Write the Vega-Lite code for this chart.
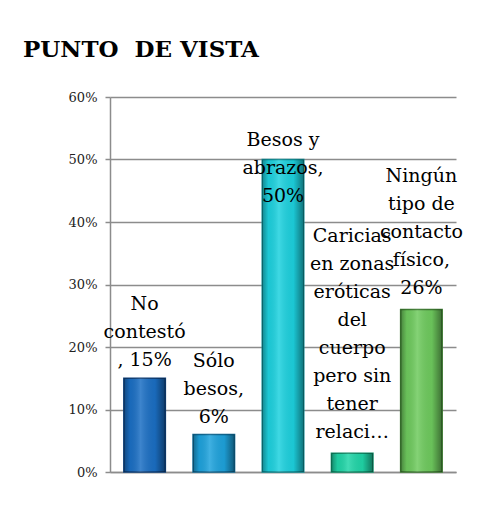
{
  "$schema": "https://vega.github.io/schema/vega-lite/v6.json",
  "width": 346,
  "height": 375,
  "autosize": {"type": "none"},
  "padding": {"left": 110, "top": 97, "right": 40, "bottom": 40},
  "background": "white",
  "title": {
    "text": "PUNTO\u00a0 DE VISTA",
    "anchor": "start",
    "frame": "group",
    "font": "DejaVu Serif",
    "fontSize": 23,
    "fontWeight": "bold",
    "color": "black",
    "dx": -87,
    "offset": 11,
    "baseline": "alphabetic"
  },
  "config": {"view": {"stroke": null}},
  "data": {
    "values": [
      {"cat": "No contestó", "label": ["No", "contestó", ", 15%"], "n": 3, "pct": 0.15},
      {"cat": "Sólo besos", "label": ["Sólo", "besos,", "6%"], "n": 3, "pct": 0.06},
      {"cat": "Besos y abrazos", "label": ["Besos y", "abrazos,", "50%"], "n": 0, "pct": 0.50},
      {"cat": "Caricias en zonas eróticas del cuerpo pero sin tener relaciones", "label": ["Caricias", "en zonas", "eróticas", "del", "cuerpo", "pero sin", "tener", "relaci…"], "n": 8, "pct": 0.03},
      {"cat": "Ningún tipo de contacto físico", "label": ["Ningún", "tipo de", "contacto", "físico,", "26%"], "n": 5, "pct": 0.26}
    ]
  },
  "encoding": {
    "x": {
      "field": "cat",
      "type": "nominal",
      "sort": null,
      "scale": {"paddingInner": 0.4, "paddingOuter": 0.2},
      "axis": {"labels": false, "ticks": false, "title": null, "domainColor": "#8c8c8c", "domainWidth": 1.5}
    },
    "y": {
      "field": "pct",
      "type": "quantitative",
      "scale": {"domain": [0, 0.6]},
      "axis": {
        "values": [0, 0.1, 0.2, 0.3, 0.4, 0.5, 0.6],
        "format": ".0%",
        "title": null,
        "grid": true,
        "gridColor": "#8c8c8c",
        "gridWidth": 1.5,
        "domainColor": "#8c8c8c",
        "domainWidth": 1.5,
        "tickColor": "#8c8c8c",
        "tickWidth": 1.5,
        "tickSize": 5,
        "labelPadding": 8,
        "labelFont": "DejaVu Serif",
        "labelFontSize": 13,
        "labelColor": "#222222"
      }
    }
  },
  "layer": [
    {
      "mark": {"type": "bar", "strokeWidth": 1.5},
      "encoding": {
        "color": {
          "field": "cat",
          "type": "nominal",
          "sort": null,
          "scale": {"range": ["#1b6fc4", "#1ea3dd", "#1dd2df", "#20d6a8", "#6fcb5e"]},
          "legend": null
        },
        "stroke": {
          "field": "cat",
          "type": "nominal",
          "sort": null,
          "scale": {"range": ["#0e3f78", "#0f6690", "#0e8890", "#0f8a66", "#3c7a30"]},
          "legend": null
        }
      }
    },
    {
      "mark": {
        "type": "bar",
        "fill": {
          "gradient": "linear",
          "x1": 0, "x2": 1, "y1": 0, "y2": 0,
          "stops": [
            {"offset": 0, "color": "rgba(0,0,0,0.35)"},
            {"offset": 0.15, "color": "rgba(0,0,0,0.05)"},
            {"offset": 0.4, "color": "rgba(255,255,255,0.15)"},
            {"offset": 0.75, "color": "rgba(0,0,0,0.05)"},
            {"offset": 1, "color": "rgba(0,0,0,0.45)"}
          ]
        }
      }
    },
    {
      "transform": [{"filter": "datum.n === 3"}],
      "mark": {"type": "text", "baseline": "alphabetic", "align": "center", "dy": -68, "font": "DejaVu Serif", "fontSize": 19, "lineHeight": 28, "color": "black"},
      "encoding": {"text": {"field": "label"}}
    },
    {
      "transform": [{"filter": "datum.n === 5"}],
      "mark": {"type": "text", "baseline": "alphabetic", "align": "center", "dy": -128, "font": "DejaVu Serif", "fontSize": 19, "lineHeight": 28, "color": "black"},
      "encoding": {"text": {"field": "label"}}
    },
    {
      "transform": [{"filter": "datum.n === 8"}],
      "mark": {"type": "text", "baseline": "alphabetic", "align": "center", "dy": -211, "font": "DejaVu Serif", "fontSize": 19, "lineHeight": 28, "color": "black"},
      "encoding": {"text": {"field": "label"}}
    },
    {
      "transform": [{"filter": "datum.n === 0"}],
      "mark": {"type": "text", "baseline": "alphabetic", "align": "center", "dy": -14, "font": "DejaVu Serif", "fontSize": 19, "lineHeight": 28, "color": "black"},
      "encoding": {"text": {"field": "label"}}
    }
  ]
}
